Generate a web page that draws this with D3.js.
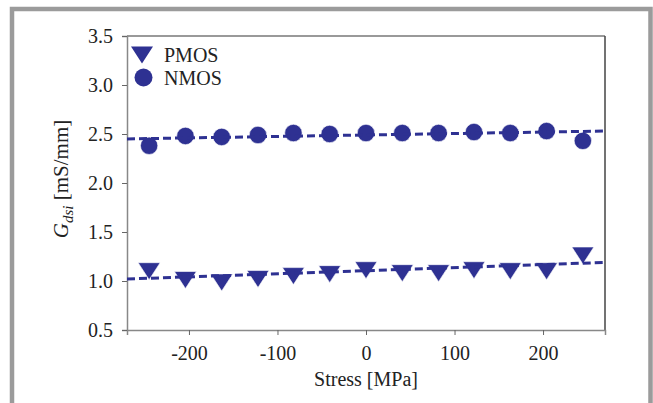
<!DOCTYPE html>
<html>
<head>
<meta charset="utf-8">
<script src="https://cdn.jsdelivr.net/npm/d3@7"></script>
<style>
  body { margin: 0; background: #fff; }
  svg text { font-family: "Liberation Serif", "Times New Roman", serif; fill: #222; }
</style>
</head>
<body>
<div id="chart"></div>
<script>
// data
const stress = [-245, -204, -163, -122, -82, -41, 0, 41, 82, 122, 163, 204, 245];
const pmos = [1.10, 1.01, 0.985, 1.02, 1.05, 1.07, 1.11, 1.08, 1.08, 1.11, 1.10, 1.10, 1.26];
const nmos = [2.38, 2.48, 2.47, 2.49, 2.51, 2.50, 2.51, 2.51, 2.51, 2.52, 2.51, 2.53, 2.43];
// dashed trend lines, end points
const fitX = [-270, 270];
const pmosFit = [1.02, 1.19];
const nmosFit = [2.45, 2.53];
const xTicks = [-200, -100, 0, 100, 200];
const yTicks = [0.5, 1.0, 1.5, 2.0, 2.5, 3.0, 3.5];

const W = 653, H = 403;
const margin = {top: 36, right: 48, bottom: 73, left: 127},
  width = W - margin.left - margin.right,
  height = H - margin.top - margin.bottom;
const blue = "#2e3192";

const root = d3.select("#chart").append("svg")
  .attr("width", W).attr("height", H);

// grey frame round the figure
root.append("path")
  .attr("d", "M12,403 L12,9 L650.5,9 L650.5,403")
  .attr("fill", "none").attr("stroke", "#9b9b9b").attr("stroke-width", 4.5);

const svg = root.append("g")
  .attr("transform", `translate(${margin.left}, ${margin.top})`);

const x = d3.scaleLinear().domain([-270, 270]).range([0, width]);
const y = d3.scaleLinear().domain([0.5, 3.5]).range([height, 0]);

// top / right box lines
svg.append("line").attr("x1", 0).attr("x2", width).attr("y1", 0).attr("y2", 0)
  .attr("stroke", "#777").attr("stroke-width", 1.5);
svg.append("line").attr("x1", width).attr("x2", width).attr("y1", 0).attr("y2", height)
  .attr("stroke", "#444").attr("stroke-width", 1.5);

// axes
const xAxis = svg.append("g")
  .attr("transform", `translate(0, ${height})`)
  .call(d3.axisBottom(x).tickValues(xTicks).tickSize(5).tickPadding(11).tickFormat(d3.format("d")));
const yAxis = svg.append("g")
  .call(d3.axisLeft(y).tickValues(yTicks).tickSize(5).tickPadding(9).tickFormat(d3.format(".1f")));
[xAxis, yAxis].forEach(a => {
  a.select(".domain").attr("stroke", "#888").attr("stroke-width", 1.5);
  a.selectAll(".tick line").attr("stroke", "#666");
  a.selectAll("text").style("font-size", "20px").attr("fill", "#222")
    .style("font-family", "'Liberation Serif', serif");
});
xAxis.selectAll(".tick text").text(d => d < 0 ? "-" + Math.abs(d) : d);

// axis labels
svg.append("text")
  .attr("x", width / 2).attr("y", height + 56)
  .attr("text-anchor", "middle").style("font-size", "20px")
  .text("Stress [MPa]");

const yl = svg.append("text")
  .attr("transform", `translate(-59, ${height / 2 - 4}) rotate(-90)`)
  .attr("text-anchor", "middle").style("font-size", "21px");
yl.append("tspan").style("font-style", "italic").text("G");
yl.append("tspan").style("font-style", "italic").style("font-size", "15px").attr("dy", 5).text("dsi");
yl.append("tspan").attr("dy", -5).text(" [mS/mm]");

// markers
const tri = (cx, cy) => `M${cx - 11},${cy - 8.5} L${cx + 11},${cy - 8.5} L${cx},${cy + 8.5} Z`;

svg.selectAll(".pmos")
  .data(stress.map((s, i) => ({s: s, v: pmos[i]})))
  .join("path")
  .attr("class", "pmos")
  .attr("d", d => tri(x(d.s), y(d.v)))
  .attr("fill", blue).attr("stroke", "#fff").attr("stroke-width", 0.6);

svg.selectAll(".nmos")
  .data(stress.map((s, i) => ({s: s, v: nmos[i]})))
  .join("circle")
  .attr("class", "nmos")
  .attr("cx", d => x(d.s)).attr("cy", d => y(d.v)).attr("r", 8.7)
  .attr("fill", blue).attr("stroke", "#fff").attr("stroke-width", 0.6);

// dashed fits
const line = d3.line().x(d => x(d[0])).y(d => y(d[1]));
[pmosFit, nmosFit].forEach(f => {
  svg.append("path")
    .datum(fitX.map((fx, i) => [fx, f[i]]))
    .attr("d", line)
    .attr("fill", "none").attr("stroke", blue)
    .attr("stroke-width", 3).attr("stroke-dasharray", "8,4");
});

// legend
const lg = root.append("g");
lg.append("path").attr("d", tri(142, 55)).attr("fill", blue);
lg.append("circle").attr("cx", 143.5).attr("cy", 77.5).attr("r", 9).attr("fill", blue);
lg.append("text").attr("x", 164).attr("y", 62).style("font-size", "20px").text("PMOS");
lg.append("text").attr("x", 164).attr("y", 85).style("font-size", "20px").text("NMOS");
</script>
</body>
</html>
